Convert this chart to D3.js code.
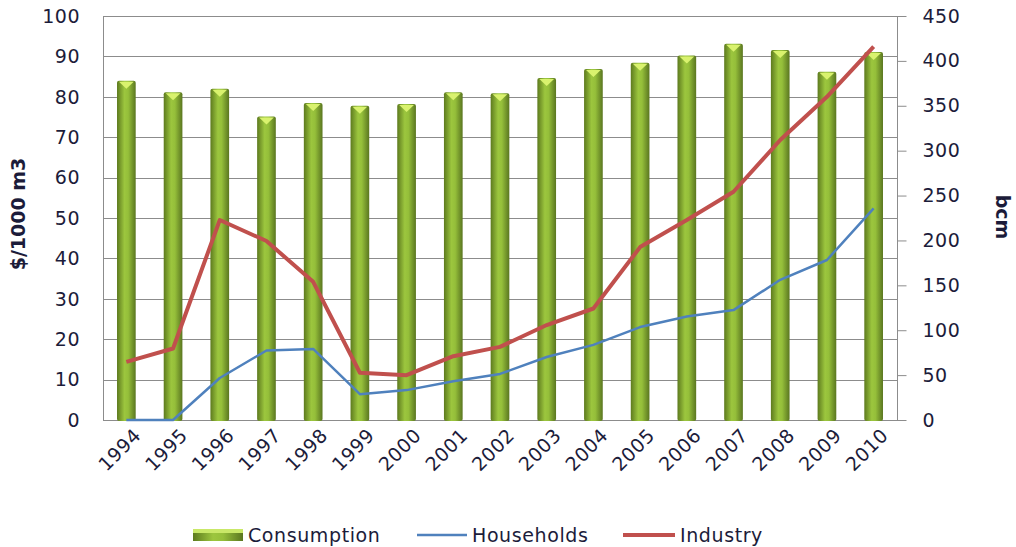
<!DOCTYPE html>
<html>
<head>
<meta charset="utf-8">
<script src="https://cdn.jsdelivr.net/npm/d3@7"></script>
<style>
  body { margin: 0; background: #fff; }
  svg { display: block; }
  text { font-family: "DejaVu Sans", Verdana, sans-serif; fill: #1c1c3a; }
</style>
</head>
<body>
<svg width="1016" height="547"></svg>
<script>
var years = ["1994", "1995", "1996", "1997", "1998", "1999", "2000", "2001", "2002",
  "2003", "2004", "2005", "2006", "2007", "2008", "2009", "2010"];
// bcm (right axis)
var consumption = [378, 365, 369, 338, 353, 350, 352, 365, 364, 381, 391, 398, 406, 419, 412, 388, 410];
// $/1000 m3 (left axis)
var households = [0, 0, 10.4, 17.2, 17.6, 6.4, 7.4, 9.6, 11.4, 15.6, 18.6, 23, 25.6, 27.2, 34.7, 39.6, 52.4];
var industry = [14.4, 17.7, 49.5, 44.3, 34.2, 11.7, 11.1, 15.8, 18.1, 23.5, 27.6, 42.8, 49.5, 56.5, 69.3, 80, 92.4];
var leftTicks = d3.range(0, 101, 10);
var rightTicks = d3.range(0, 451, 50);

var svg = d3.select("svg");
var plotL = 103, plotR = 897, plotT = 16, plotB = 420;

var x = d3.scaleBand().domain(years).range([plotL, plotR]).paddingInner(0.6).paddingOuter(0.3);
var yL = d3.scaleLinear().domain([0, 100]).range([plotB, plotT]);
var yR = d3.scaleLinear().domain([0, 450]).range([plotB, plotT]);

var defs = svg.append("defs");
var grad = defs.append("linearGradient").attr("id", "barGrad")
  .attr("x1", 0).attr("x2", 1).attr("y1", 0).attr("y2", 0);
grad.append("stop").attr("offset", "0%").attr("stop-color", "#5d7a1e");
grad.append("stop").attr("offset", "40%").attr("stop-color", "#9cc63e");
grad.append("stop").attr("offset", "60%").attr("stop-color", "#95bf3a");
grad.append("stop").attr("offset", "100%").attr("stop-color", "#5a7620");

// gridlines
svg.append("g").selectAll("line").data(leftTicks).enter().append("line")
  .attr("x1", plotL).attr("x2", plotR)
  .attr("y1", function (d) { return Math.round(yL(d)) + 0.5; })
  .attr("y2", function (d) { return Math.round(yL(d)) + 0.5; })
  .attr("stroke", "#8c8c8c").attr("stroke-width", 1);

// left axis line
svg.append("line").attr("x1", plotL + 0.5).attr("x2", plotL + 0.5)
  .attr("y1", plotT).attr("y2", plotB + 1).attr("stroke", "#8c8c8c");

// left tick labels
svg.append("g").selectAll("text").data(leftTicks).enter().append("text")
  .attr("x", 80).attr("y", function (d) { return yL(d); })
  .attr("dy", "0.36em").attr("text-anchor", "end")
  .style("font-size", "19px").style("letter-spacing", "0.5px")
  .text(function (d) { return d; });

// right axis
var rAxis = svg.append("g").attr("transform", "translate(" + (plotR + 0.5) + ",0)")
  .call(d3.axisRight(yR).tickValues(rightTicks).tickSize(9).tickPadding(16));
rAxis.select(".domain").attr("stroke", "#8c8c8c").attr("d", "M0," + plotT + "V" + (plotB + 1));
rAxis.selectAll(".tick line").attr("stroke", "#8c8c8c");
rAxis.selectAll(".tick text").style("font-size", "19px").style("letter-spacing", "0.5px")
  .style("font-family", "'DejaVu Sans', Verdana, sans-serif").attr("fill", "#1c1c3a");

// bars
var bars = svg.append("g").selectAll("g").data(consumption).enter().append("g");
bars.append("rect")
  .attr("x", function (d, i) { return x(years[i]); })
  .attr("y", function (d) { return yR(d); })
  .attr("width", x.bandwidth())
  .attr("height", function (d) { return plotB - yR(d) + 1; })
  .attr("rx", 2)
  .attr("fill", "url(#barGrad)");
bars.append("path")
  .attr("d", function (d, i) {
    var x0 = x(years[i]), w = x.bandwidth(), y0 = yR(d) + 1;
    return "M" + (x0 + 2) + "," + y0 + "L" + (x0 + w - 2) + "," + y0 +
      "L" + (x0 + w / 2) + "," + (y0 + 7) + "Z";
  })
  .attr("fill", "#d9f26e");

// lines
var line = d3.line()
  .x(function (d, i) { return x(years[i]) + x.bandwidth() / 2; })
  .y(function (d) { return yL(d); });
svg.append("path").datum(households).attr("d", line)
  .attr("fill", "none").attr("stroke", "#4f81bd").attr("stroke-width", 2.5)
  .attr("stroke-linejoin", "round");
svg.append("path").datum(industry).attr("d", line)
  .attr("fill", "none").attr("stroke", "#c0504d").attr("stroke-width", 4)
  .attr("stroke-linejoin", "round");

// x labels
svg.append("g").selectAll("text").data(years).enter().append("text")
  .attr("transform", function (d) {
    return "translate(" + (x(d) + x.bandwidth() / 2 + 11) + "," + (plotB + 12) + ") rotate(-45)";
  })
  .attr("text-anchor", "end").attr("dy", "0.35em")
  .style("font-size", "19px").style("letter-spacing", "0.5px")
  .text(function (d) { return d; });

// axis titles
svg.append("text").attr("transform", "translate(25,214) rotate(-90)")
  .attr("text-anchor", "middle").style("font-size", "19px").style("font-weight", "bold")
  .text("$/1000 m3");
svg.append("text").attr("transform", "translate(996,217) rotate(90)")
  .attr("text-anchor", "middle").style("font-size", "19px").style("font-weight", "bold")
  .text("bcm");

// legend
var legend = svg.append("g");
legend.append("rect").attr("x", 193).attr("y", 529).attr("width", 50).attr("height", 12)
  .attr("fill", "url(#barGrad)");
legend.append("rect").attr("x", 193).attr("y", 529).attr("width", 50).attr("height", 4)
  .attr("fill", "#c9e868");
legend.append("line").attr("x1", 417).attr("x2", 467).attr("y1", 535).attr("y2", 535)
  .attr("stroke", "#4f81bd").attr("stroke-width", 2.5);
legend.append("line").attr("x1", 623).attr("x2", 675).attr("y1", 535).attr("y2", 535)
  .attr("stroke", "#c0504d").attr("stroke-width", 4);
var legText = [["Consumption", 248], ["Households", 472], ["Industry", 680]];
legend.selectAll("text").data(legText).enter().append("text")
  .attr("x", function (d) { return d[1]; }).attr("y", 535).attr("dy", "0.36em")
  .style("font-size", "19px").style("letter-spacing", "0.6px")
  .text(function (d) { return d[0]; });
</script>
</body>
</html>
